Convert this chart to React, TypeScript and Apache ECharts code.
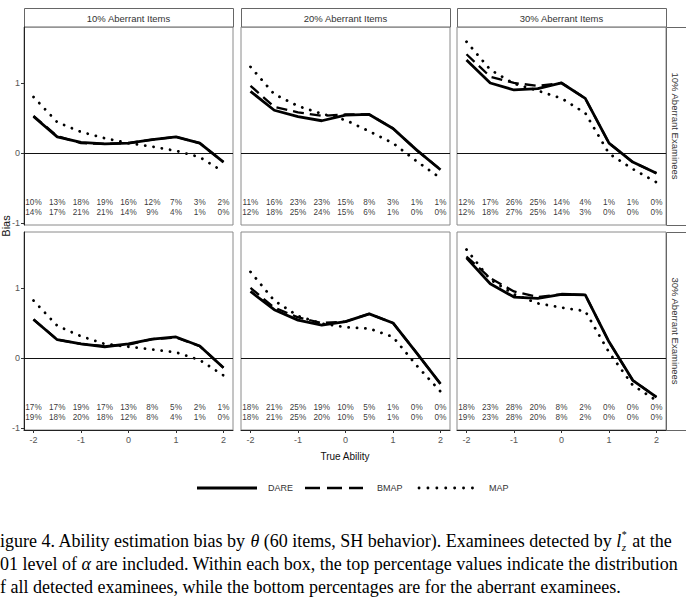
import React, { useEffect, useRef } from "react";
import * as echarts from "echarts";

// ---------- data ----------
const THETA = [-2, -1.5, -1, -0.5, 0, 0.5, 1, 1.5, 2];
const X_TICKS = [-2, -1, 0, 1, 2];
const Y_TICKS = [-1, 0, 1];
const COL_LABELS = ["10% Aberrant Items", "20% Aberrant Items", "30% Aberrant Items"];
const ROW_LABELS = ["10% Aberrant Examinees", "30% Aberrant Examinees"];
const SERIES_NAMES = ["DARE", "BMAP", "MAP"];

// row 1: 10% aberrant examinees
const DARE_R1C1 = [0.52, 0.23, 0.15, 0.13, 0.14, 0.19, 0.23, 0.14, -0.13];
const BMAP_R1C1 = [0.53, 0.24, 0.14, 0.13, 0.14, 0.19, 0.23, 0.14, -0.13];
const MAP_R1C1 = [0.8, 0.44, 0.3, 0.21, 0.14, 0.09, 0.03, -0.06, -0.27];
const DARE_R1C2 = [0.88, 0.61, 0.52, 0.46, 0.54, 0.55, 0.35, 0.04, -0.24];
const BMAP_R1C2 = [0.96, 0.66, 0.58, 0.53, 0.55, 0.55, 0.35, 0.04, -0.24];
const MAP_R1C2 = [1.23, 0.84, 0.67, 0.56, 0.47, 0.31, 0.14, -0.12, -0.36];
const DARE_R1C3 = [1.33, 1.0, 0.9, 0.92, 1.0, 0.78, 0.14, -0.13, -0.29];
const BMAP_R1C3 = [1.41, 1.09, 1.0, 0.96, 1.0, 0.78, 0.14, -0.13, -0.29];
const MAP_R1C3 = [1.59, 1.19, 0.99, 0.89, 0.78, 0.57, -0.01, -0.23, -0.42];
// row 2: 30% aberrant examinees
const DARE_R2C1 = [0.55, 0.26, 0.2, 0.16, 0.2, 0.27, 0.3, 0.17, -0.14];
const BMAP_R2C1 = [0.55, 0.26, 0.2, 0.17, 0.19, 0.27, 0.29, 0.17, -0.14];
const MAP_R2C1 = [0.82, 0.46, 0.31, 0.2, 0.16, 0.12, 0.08, -0.03, -0.25];
const DARE_R2C2 = [0.95, 0.69, 0.54, 0.47, 0.52, 0.63, 0.5, 0.07, -0.37];
const BMAP_R2C2 = [1.0, 0.72, 0.58, 0.5, 0.52, 0.63, 0.5, 0.07, -0.37];
const MAP_R2C2 = [1.23, 0.82, 0.6, 0.49, 0.44, 0.42, 0.3, -0.11, -0.48];
const DARE_R2C3 = [1.43, 1.06, 0.87, 0.85, 0.91, 0.9, 0.23, -0.32, -0.56];
const BMAP_R2C3 = [1.45, 1.14, 0.95, 0.87, 0.91, 0.9, 0.23, -0.32, -0.56];
const MAP_R2C3 = [1.55, 1.12, 0.91, 0.78, 0.72, 0.67, 0.08, -0.39, -0.61];

// percentages: all detected (top) / aberrant (bottom)
const PCT_ALL_R1C1 = ["10%", "13%", "18%", "19%", "16%", "12%", "7%", "3%", "2%"];
const PCT_ABR_R1C1 = ["14%", "17%", "21%", "21%", "14%", "9%", "4%", "1%", "0%"];
const PCT_ALL_R1C2 = ["11%", "16%", "23%", "23%", "15%", "8%", "3%", "1%", "1%"];
const PCT_ABR_R1C2 = ["12%", "18%", "25%", "24%", "15%", "6%", "1%", "0%", "0%"];
const PCT_ALL_R1C3 = ["12%", "17%", "26%", "25%", "14%", "4%", "1%", "1%", "0%"];
const PCT_ABR_R1C3 = ["12%", "18%", "27%", "25%", "14%", "3%", "0%", "0%", "0%"];
const PCT_ALL_R2C1 = ["17%", "17%", "19%", "17%", "13%", "8%", "5%", "2%", "1%"];
const PCT_ABR_R2C1 = ["19%", "18%", "20%", "18%", "12%", "8%", "4%", "1%", "0%"];
const PCT_ALL_R2C2 = ["18%", "21%", "25%", "19%", "10%", "5%", "1%", "0%", "0%"];
const PCT_ABR_R2C2 = ["18%", "21%", "25%", "20%", "10%", "5%", "1%", "0%", "0%"];
const PCT_ALL_R2C3 = ["18%", "23%", "28%", "20%", "8%", "2%", "0%", "0%", "0%"];
const PCT_ABR_R2C3 = ["19%", "23%", "28%", "20%", "8%", "2%", "0%", "0%", "0%"];

const PCT_Y_TOP = -0.715;
const PCT_Y_BOTTOM = -0.845;

const CAPTION_1A = "igure 4. Ability estimation bias by ";
const CAPTION_1B = " (60 items, SH behavior). Examinees detected by ";
const CAPTION_1C = " at the";
const CAPTION_2A = "01 level of ";
const CAPTION_2B = " are included. Within each box, the top percentage values indicate the distribution";
const CAPTION_3 = "f all detected examinees, while the bottom percentages are for the aberrant examinees.";

// ---------- layout ----------
const PANEL_LEFT = [24, 241, 457];
const PANEL_TOP = [27, 232];
const PANEL_W = 209;
const PANEL_H = 198;
const SANS = "'Liberation Sans', Arial, sans-serif";
const SERIF = "'Liberation Serif', 'Times New Roman', serif";
const CAP_SIZE = 18;

const PANELS = [
  { r: 0, c: 0, dare: DARE_R1C1, bmap: BMAP_R1C1, map: MAP_R1C1, top: PCT_ALL_R1C1, bot: PCT_ABR_R1C1 },
  { r: 0, c: 1, dare: DARE_R1C2, bmap: BMAP_R1C2, map: MAP_R1C2, top: PCT_ALL_R1C2, bot: PCT_ABR_R1C2 },
  { r: 0, c: 2, dare: DARE_R1C3, bmap: BMAP_R1C3, map: MAP_R1C3, top: PCT_ALL_R1C3, bot: PCT_ABR_R1C3 },
  { r: 1, c: 0, dare: DARE_R2C1, bmap: BMAP_R2C1, map: MAP_R2C1, top: PCT_ALL_R2C1, bot: PCT_ABR_R2C1 },
  { r: 1, c: 1, dare: DARE_R2C2, bmap: BMAP_R2C2, map: MAP_R2C2, top: PCT_ALL_R2C2, bot: PCT_ABR_R2C2 },
  { r: 1, c: 2, dare: DARE_R2C3, bmap: BMAP_R2C3, map: MAP_R2C3, top: PCT_ALL_R2C3, bot: PCT_ABR_R2C3 },
];

const DARE_STYLE = { color: "#000", width: 2.8, type: "solid" as any };
const BMAP_STYLE = { color: "#000", width: 2.3, type: [11, 6] as any };
const MAP_STYLE = { color: "#000", width: 2.8, type: [0.1, 8.3] as any, cap: "round" as any };

function measure(text: string, font: string): number {
  const ctx = document.createElement("canvas").getContext("2d");
  if (!ctx) return text.length * 7;
  ctx.font = font;
  return ctx.measureText(text).width;
}

function buildOption() {
  const grid: any[] = [];
  const xAxis: any[] = [];
  const yAxis: any[] = [];
  const series: any[] = [];

  PANELS.forEach((p, i) => {
    grid.push({
      left: PANEL_LEFT[p.c],
      top: PANEL_TOP[p.r],
      width: PANEL_W,
      height: PANEL_H,
      show: true,
      borderColor: "#8a8a8a",
      borderWidth: 1,
      backgroundColor: "#fff",
    });
    const isBottom = p.r === 1;
    const isLeft = p.c === 0;
    xAxis.push({
      gridIndex: i,
      type: "value",
      min: -2.2,
      max: 2.2,
      axisLine: { show: isBottom, onZero: false, lineStyle: { color: "#222", width: 1 } },
      axisTick: { show: isBottom, length: 3, customValues: X_TICKS, lineStyle: { color: "#333" } },
      axisLabel: { show: isBottom, customValues: X_TICKS, color: "#555", fontSize: 9, margin: 5, fontFamily: SANS },
      splitLine: { show: false },
    });
    yAxis.push({
      gridIndex: i,
      type: "value",
      min: -1.03,
      max: 1.8,
      axisLine: { show: isLeft, onZero: false, lineStyle: { color: "#222", width: 1 } },
      axisTick: { show: isLeft, length: 3, customValues: Y_TICKS, lineStyle: { color: "#333" } },
      axisLabel: { show: isLeft, customValues: Y_TICKS, color: "#555", fontSize: 9, margin: 4, fontFamily: SANS },
      splitLine: { show: false },
    });
    series.push({
      type: "line",
      name: "MAP",
      xAxisIndex: i,
      yAxisIndex: i,
      data: THETA.map((x, k) => [x, p.map[k]]),
      symbol: "none",
      lineStyle: MAP_STYLE,
      z: 3,
    });
    series.push({
      type: "line",
      name: "BMAP",
      xAxisIndex: i,
      yAxisIndex: i,
      data: THETA.map((x, k) => [x, p.bmap[k]]),
      symbol: "none",
      lineStyle: BMAP_STYLE,
      z: 4,
    });
    series.push({
      type: "line",
      name: "DARE",
      xAxisIndex: i,
      yAxisIndex: i,
      data: THETA.map((x, k) => [x, p.dare[k]]),
      symbol: "none",
      lineStyle: DARE_STYLE,
      z: 5,
      markLine: {
        silent: true,
        symbol: ["none", "none"],
        label: { show: false },
        lineStyle: { color: "#111", width: 1, type: "solid" },
        data: [{ yAxis: 0 }],
      },
    });
    series.push({
      type: "scatter",
      name: "pct",
      xAxisIndex: i,
      yAxisIndex: i,
      symbolSize: 1,
      itemStyle: { color: "rgba(0,0,0,0)" },
      data: [
        ...THETA.map((x, k) => [x, PCT_Y_TOP, p.top[k]]),
        ...THETA.map((x, k) => [x, PCT_Y_BOTTOM, p.bot[k]]),
      ],
      label: {
        show: true,
        position: "inside",
        formatter: (q: any) => q.value[2],
        color: "#000",
        fontSize: 8.2,
        fontFamily: SANS,
      },
      z: 6,
    });
  });

  const graphic: any[] = [];
  // column strips
  COL_LABELS.forEach((t, c) => {
    graphic.push({
      type: "rect",
      shape: { x: PANEL_LEFT[c] + 0.5, y: 8.5, width: PANEL_W, height: 18.5 },
      style: { fill: "#fff", stroke: "#666", lineWidth: 1 },
    });
    graphic.push({
      type: "text",
      x: PANEL_LEFT[c] + PANEL_W / 2,
      y: 18,
      style: { text: t, fontSize: 9.5, fontFamily: SANS, fill: "#333", align: "center", verticalAlign: "middle" },
    });
  });
  // row strips
  ROW_LABELS.forEach((t, r) => {
    graphic.push({
      type: "rect",
      shape: { x: 666.5, y: PANEL_TOP[r] + 0.5, width: 24, height: PANEL_H },
      style: { fill: "#fff", stroke: "#666", lineWidth: 1 },
    });
    graphic.push({
      type: "text",
      x: 675,
      y: PANEL_TOP[r] + PANEL_H / 2,
      rotation: -Math.PI / 2,
      style: { text: t, fontSize: 9.5, fontFamily: SANS, fill: "#333", align: "center", verticalAlign: "middle" },
    });
  });
  // axis titles
  graphic.push({
    type: "text",
    x: 6,
    y: 226,
    rotation: Math.PI / 2,
    style: { text: "Bias", fontSize: 11, fontFamily: SANS, fill: "#111", align: "center", verticalAlign: "middle" },
  });
  graphic.push({
    type: "text",
    x: 345,
    y: 456,
    style: { text: "True Ability", fontSize: 10, fontFamily: SANS, fill: "#111", align: "center", verticalAlign: "middle" },
  });
  // legend
  const LY = 488;
  graphic.push({ type: "line", shape: { x1: 197, y1: LY, x2: 257, y2: LY }, style: { stroke: "#000", lineWidth: 2.8 } });
  graphic.push({ type: "text", x: 268, y: LY, style: { text: SERIES_NAMES[0], fontSize: 9, fontFamily: SANS, fill: "#333", verticalAlign: "middle" } });
  graphic.push({ type: "line", shape: { x1: 305, y1: LY, x2: 363, y2: LY }, style: { stroke: "#000", lineWidth: 2.3, lineDash: [15, 7] } });
  graphic.push({ type: "text", x: 377, y: LY, style: { text: SERIES_NAMES[1], fontSize: 9, fontFamily: SANS, fill: "#333", verticalAlign: "middle" } });
  graphic.push({ type: "line", shape: { x1: 419, y1: LY, x2: 474, y2: LY }, style: { stroke: "#000", lineWidth: 2.8, lineDash: [0.1, 8.8], lineCap: "round" } });
  graphic.push({ type: "text", x: 489, y: LY, style: { text: SERIES_NAMES[2], fontSize: 9, fontFamily: SANS, fill: "#333", verticalAlign: "middle" } });

  // caption
  const f = `${CAP_SIZE}px ${SERIF}`;
  const fi = `italic ${CAP_SIZE}px ${SERIF}`;
  const capStyle = { fontSize: CAP_SIZE, fontFamily: SERIF, fill: "#000", verticalAlign: "middle" };
  const rich = { i: { fontStyle: "italic", fontSize: CAP_SIZE, fontFamily: SERIF, fill: "#000" } };
  const L1 = 541;
  const L2 = 564;
  const L3 = 587;
  graphic.push({
    type: "text",
    x: 0,
    y: L1,
    style: { ...capStyle, text: CAPTION_1A + "{i|θ}" + CAPTION_1B + "{i|l}", rich },
  });
  const lEnd = measure(CAPTION_1A, f) + measure("θ", fi) + measure(CAPTION_1B, f) + measure("l", fi);
  graphic.push({
    type: "text",
    x: lEnd + 0.5,
    y: L1 + 5.5,
    style: { text: "z", fontSize: 11, fontStyle: "italic", fontFamily: SERIF, fill: "#000", verticalAlign: "middle" },
  });
  graphic.push({
    type: "text",
    x: lEnd + 0.5,
    y: L1 - 6.5,
    style: { text: "*", fontSize: 10, fontFamily: SERIF, fill: "#000", verticalAlign: "middle" },
  });
  graphic.push({
    type: "text",
    x: lEnd + 6.5,
    y: L1,
    style: { ...capStyle, text: CAPTION_1C },
  });
  graphic.push({
    type: "text",
    x: 0,
    y: L2,
    style: { ...capStyle, text: CAPTION_2A + "{i|α}" + CAPTION_2B, rich },
  });
  graphic.push({
    type: "text",
    x: 0,
    y: L3,
    style: { ...capStyle, text: CAPTION_3 },
  });

  return {
    animation: false,
    backgroundColor: "#fff",
    grid,
    xAxis,
    yAxis,
    series,
    graphic,
  };
}

export default function App() {
  const ref = useRef<HTMLDivElement>(null);
  useEffect(() => {
    document.body.style.margin = "0";
    if (!ref.current) return;
    const chart = echarts.init(ref.current, null, { renderer: "svg" });
    chart.setOption(buildOption() as any);
    return () => chart.dispose();
  }, []);
  return <div ref={ref} style={{ width: 686, height: 600 }} />;
}
